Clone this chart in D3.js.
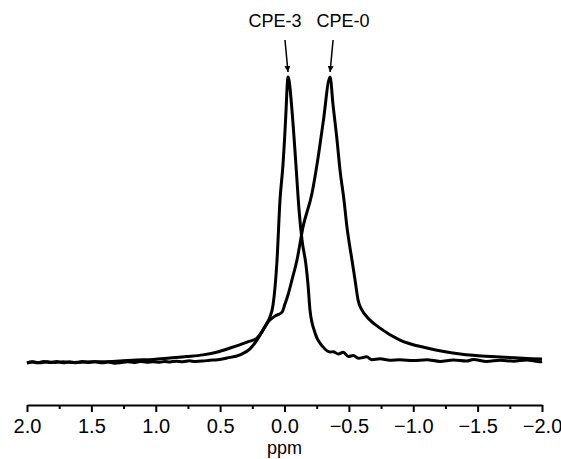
<!DOCTYPE html>
<html>
<head>
<meta charset="utf-8">
<script src="https://cdn.jsdelivr.net/npm/d3@7"></script>
<style>
  html, body { margin: 0; padding: 0; background: #fff; }
  svg { display: block; font-family: "Liberation Sans", Arial, sans-serif; }
</style>
</head>
<body>
<div id="chart"></div>
<script>
// 1H NMR spectra, ppm vs intensity (arbitrary units, peak = 100)

const majorTicks = [2.0, 1.5, 1.0, 0.5, 0.0, -0.5, -1.0, -1.5, -2.0];
const minorTicks = [1.75, 1.25, 0.75, 0.25, -0.25, -0.75, -1.25, -1.75];
const seriesNames = ["CPE-3", "CPE-0"];

// CPE-3: sharp peak near 0 ppm, noisy baseline
const cpe3 = [
  [2.00, -0.3], [1.96, 0.1], [1.92, -0.3], [1.87, 0.2], [1.82, -0.2], [1.77, 0.2],
  [1.72, -0.3], [1.67, 0.1], [1.62, -0.3], [1.57, 0.2], [1.52, -0.2], [1.47, 0.1],
  [1.42, -0.3], [1.37, 0.0], [1.32, -0.4], [1.278, -0.3], [1.22, 0.1], [1.17, -0.2],
  [1.12, 0.2], [1.07, -0.1], [1.02, 0.1], [0.97, -0.1], [0.93, 0.2], [0.89, 0.0],
  [0.84, 0.3], [0.79, 0.1], [0.74, 0.4], [0.69, 0.2], [0.633, 0.35], [0.58, 0.6],
  [0.52, 0.8], [0.447, 1.4], [0.346, 2.5], [0.268, 4.6], [0.214, 7.7], [0.167, 11.2],
  [0.136, 13.7], [0.113, 15.8], [0.089, 20.0], [0.058, 35.8], [0.035, 56.8],
  [0.012, 69.1], [-0.012, 88.4], [-0.019, 95.4], [-0.027, 100], [-0.035, 98.9],
  [-0.058, 88.4], [-0.089, 69.1], [-0.113, 53.3], [-0.136, 42.8], [-0.167, 34.0],
  [-0.183, 27.0], [-0.198, 18.2], [-0.237, 10.2], [-0.299, 5.3], [-0.354, 3.5],
  [-0.379, 3.6], [-0.418, 2.8], [-0.457, 3.4], [-0.496, 1.9], [-0.535, 2.3],
  [-0.574, 1.3], [-0.639, 1.8], [-0.678, 0.8], [-0.742, 1.1], [-0.819, 0.6],
  [-0.897, 0.8], [-1.00, 0.5], [-1.104, 0.8], [-1.208, 0.2], [-1.312, 0.7],
  [-1.415, 0.35], [-1.467, 0.9], [-1.571, 0.2], [-1.674, 0.6], [-1.778, 0.3],
  [-1.881, 0.7], [-1.985, 0.1], [-2.00, 0.2]
];

// CPE-0: broader peak near -0.35 ppm
const cpe0 = [
  [2.00, -0.35], [1.95, 0.0], [1.90, -0.3], [1.84, 0.1], [1.78, -0.2], [1.72, 0.1],
  [1.66, -0.2], [1.589, -0.1], [1.50, 0.1], [1.40, 0.1], [1.278, 0.35], [1.15, 0.7],
  [1.02, 0.9], [0.89, 1.4], [0.76, 1.9], [0.633, 2.5], [0.52, 3.5], [0.423, 4.9],
  [0.291, 7.0], [0.214, 8.4], [0.167, 11.2], [0.128, 14.0], [0.074, 16.1],
  [0.019, 17.5], [-0.004, 20.4], [-0.027, 23.5], [-0.058, 28.8], [-0.097, 35.8],
  [-0.144, 47.4], [-0.214, 59.3], [-0.260, 71.5], [-0.300, 84.0],
  [-0.354, 100], [-0.377, 90.2], [-0.408, 77.9], [-0.431, 67.4],
  [-0.462, 56.8], [-0.485, 47.4], [-0.524, 35.8], [-0.548, 28.8], [-0.571, 21.8],
  [-0.602, 18.2], [-0.641, 15.8], [-0.742, 11.9], [-0.897, 7.7], [-1.107, 4.9],
  [-1.364, 2.8], [-1.674, 1.75], [-2.00, 1.05]
];

const width = 561, height = 459;

const svg = d3.select("#chart")
  .append("svg")
  .attr("width", width)
  .attr("height", height);

const x = d3.scaleLinear().domain([2.0, -2.0]).range([27, 542]);
const y = d3.scaleLinear().domain([0, 100]).range([362, 77]);
const axisY = 405;

// spectra
const line = d3.line()
  .x(d => x(d[0]))
  .y(d => y(d[1]))
  .curve(d3.curveMonotoneX);

svg.selectAll("path.spec")
  .data([cpe3, cpe0])
  .join("path")
  .attr("class", "spec")
  .attr("d", line)
  .attr("fill", "none")
  .attr("stroke", "#000")
  .attr("stroke-width", 3)
  .attr("stroke-linejoin", "round");

// x axis: major ticks with labels
const axisMajor = d3.axisBottom(x)
  .tickValues(majorTicks)
  .tickFormat(d3.format(".1f"))
  .tickSize(7)
  .tickSizeOuter(0)
  .tickPadding(7);

const gx = svg.append("g")
  .attr("transform", `translate(0,${axisY})`)
  .call(axisMajor);

gx.select(".domain").attr("stroke", "#000").attr("stroke-width", 2);
gx.selectAll(".tick line").attr("stroke", "#000").attr("stroke-width", 2);
gx.selectAll(".tick text")
  .attr("fill", "#000")
  .style("font-size", "20px")
  .style("font-family", "'Liberation Sans', Arial, sans-serif");

// minor ticks
const axisMinor = d3.axisBottom(x)
  .tickValues(minorTicks)
  .tickFormat("")
  .tickSize(4)
  .tickSizeOuter(0);

const gm = svg.append("g")
  .attr("transform", `translate(0,${axisY})`)
  .call(axisMinor);
gm.select(".domain").remove();
gm.selectAll(".tick line").attr("stroke", "#000").attr("stroke-width", 2);

// axis title
svg.append("text")
  .attr("x", x(0))
  .attr("y", 454)
  .attr("text-anchor", "middle")
  .style("font-size", "18px")
  .attr("fill", "#000")
  .text("ppm");

// peak labels with arrows
const peaks = [cpe3, cpe0].map(s => s.reduce((a, b) => (b[1] > a[1] ? b : a)));

svg.append("defs").append("marker")
  .attr("id", "head")
  .attr("viewBox", "0 0 10 10")
  .attr("refX", 10)
  .attr("refY", 5)
  .attr("markerWidth", 6)
  .attr("markerHeight", 6)
  .attr("markerUnits", "userSpaceOnUse")
  .attr("orient", "auto")
  .append("path")
  .attr("d", "M0,0L10,5L0,10z")
  .attr("fill", "#000");

peaks.forEach((p, i) => {
  const px = x(p[0]);
  const side = i === 0 ? -1 : 1;
  svg.append("line")
    .attr("x1", px + side * 3)
    .attr("y1", 40)
    .attr("x2", px)
    .attr("y2", y(p[1]) - 5)
    .attr("stroke", "#000")
    .attr("stroke-width", 1.5)
    .attr("marker-end", "url(#head)");
  svg.append("text")
    .attr("x", px + side * 13)
    .attr("y", 27)
    .attr("text-anchor", "middle")
    .style("font-size", "18px")
    .attr("fill", "#000")
    .text(seriesNames[i]);
});
</script>
</body>
</html>
